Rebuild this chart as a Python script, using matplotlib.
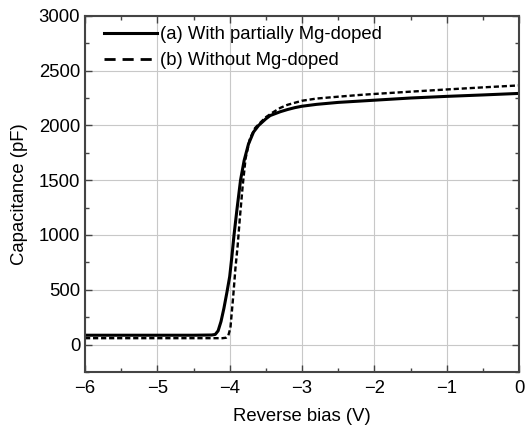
import matplotlib
matplotlib.use("Agg")
import matplotlib.pyplot as plt
from matplotlib.lines import Line2D
from matplotlib.ticker import MultipleLocator

plt.rcParams['font.family'] = ['Liberation Sans', 'DejaVu Sans']

# (a) with partially Mg-doped
bias_a = [-6.0, -5.0, -4.5, -4.25, -4.2, -4.16, -4.12, -4.08, -4.04, -4.0, -3.97,
          -3.94, -3.9, -3.85, -3.8, -3.74, -3.67, -3.6, -3.5, -3.44, -3.3, -3.2,
          -3.1, -3.0, -2.8, -2.5, -2.2, -2.0, -1.5, -1.0, -0.5, 0.0]
cap_a = [85, 85, 85, 87, 92, 125, 210, 330, 470, 620, 800,
         1000, 1230, 1500, 1680, 1830, 1940, 2000, 2060, 2090, 2125, 2145,
         2162, 2175, 2192, 2210, 2222, 2230, 2250, 2265, 2278, 2292]

# (b) without Mg-doped
bias_b = [-6.0, -5.0, -4.5, -4.1, -4.05, -4.02, -3.99, -3.97, -3.95, -3.92,
          -3.89, -3.86, -3.82, -3.78, -3.72, -3.65, -3.6, -3.5, -3.4, -3.3,
          -3.2, -3.0, -2.8, -2.5, -2.2, -2.0, -1.5, -1.0, -0.5, 0.0]
cap_b = [58, 58, 58, 58, 62, 80, 150, 300, 450, 700,
         900, 1150, 1450, 1700, 1880, 1975, 2010, 2075, 2120, 2160,
         2188, 2225, 2245, 2262, 2278, 2287, 2308, 2328, 2347, 2365]

label_a = '(a) With partially Mg-doped'
label_b = '(b) Without Mg-doped'

fig = plt.figure(figsize=(5.28, 4.28), dpi=100)
ax = fig.add_axes([0.161, 0.131, 0.822, 0.832])

ax.plot(bias_a, cap_a, color='black', lw=2.2)
ax.plot(bias_b, cap_b, color='black', lw=1.7, linestyle=(0, (2.2, 1.2)))

ax.set_xlim(-6, 0)
ax.set_ylim(-250, 3000)
ax.xaxis.set_major_locator(MultipleLocator(1))
ax.xaxis.set_minor_locator(MultipleLocator(0.5))
ax.yaxis.set_major_locator(MultipleLocator(500))
ax.yaxis.set_minor_locator(MultipleLocator(250))
ax.tick_params(which='both', direction='in', top=True, right=True,
               labelsize=13.3, color='#444444')
ax.tick_params(which='major', length=5, width=1)
ax.tick_params(which='minor', length=3, width=1)
ax.tick_params(axis='x', which='major', pad=5.5)
ax.grid(True, which='major', color='#c8c8c8', lw=0.8)
for s in ax.spines.values():
    s.set_color('#444444')
    s.set_linewidth(1.5)

ax.set_xlabel('Reverse bias (V)', fontsize=13.3, labelpad=8)
ax.set_ylabel('Capacitance (pF)', fontsize=13.3, labelpad=8)

# legend handles use longer dashes than the curve
handles = [Line2D([], [], color='black', lw=2.2),
           Line2D([], [], color='black', lw=2.0, linestyle=(0, (4, 2.5)))]
ax.legend(handles, [label_a, label_b], loc='upper left',
          bbox_to_anchor=(0.02, 1.0), frameon=False,
          fontsize=13.3, handlelength=2.9, handletextpad=0.15,
          borderaxespad=0.15, labelspacing=0.5)

fig.savefig('out.png', dpi=100)
